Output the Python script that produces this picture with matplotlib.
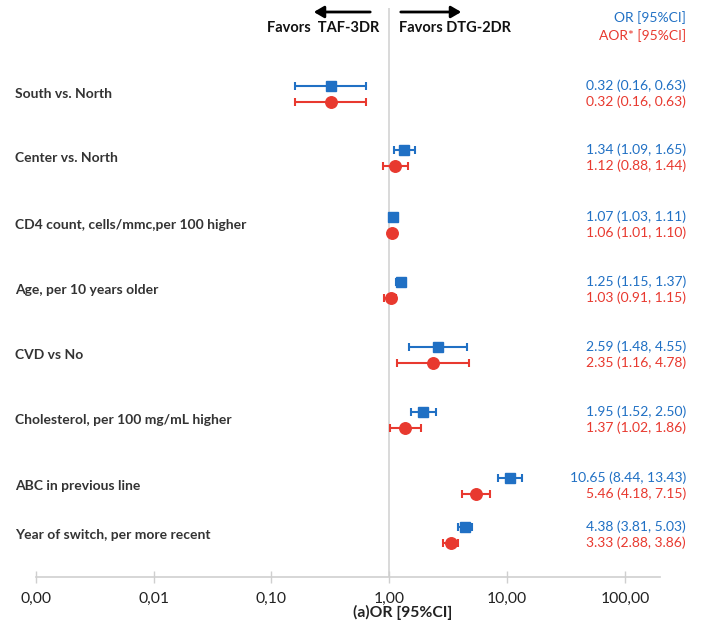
import matplotlib
matplotlib.use("Agg")
import matplotlib.pyplot as plt
import matplotlib.transforms as mtransforms

plt.rcParams['font.family'] = ['Lato', 'DejaVu Sans']

# ---- data ----
labels = ["South vs. North", "Center vs. North", "CD4 count, cells/mmc,per 100 higher",
          "Age, per 10 years older", "CVD vs No", "Cholesterol, per 100 mg/mL higher",
          "ABC in previous line", "Year of switch, per more recent"]
or_est = [0.32, 1.34, 1.07, 1.25, 2.59, 1.95, 10.65, 4.38]
or_lo = [0.16, 1.09, 1.03, 1.15, 1.48, 1.52, 8.44, 3.81]
or_hi = [0.63, 1.65, 1.11, 1.37, 4.55, 2.50, 13.43, 5.03]
aor_est = [0.32, 1.12, 1.06, 1.03, 2.35, 1.37, 5.46, 3.33]
aor_lo = [0.16, 0.88, 1.01, 0.91, 1.16, 1.02, 4.18, 2.88]
aor_hi = [0.63, 1.44, 1.10, 1.15, 4.78, 1.86, 7.15, 3.86]
xticks = [0.001, 0.01, 0.1, 1, 10, 100]
xticklabels = ["0,00", "0,01", "0,10", "1,00", "10,00", "100,00"]

# ---- layout (pixel rows) ----
W, H = 703, 626
row_y = [93.5, 157.5, 224.5, 290, 355, 420, 486, 535]
off = 8
BLUE = '#2070c4'
RED = '#e8392f'

fig = plt.figure(figsize=(W / 100, H / 100), dpi=100)
x0, x1, ytop, ybot = 35.7, 660, 8, 577
ax = fig.add_axes([x0 / W, 1 - ybot / H, (x1 - x0) / W, (ybot - ytop) / H])
ax.set_xscale('log')
ax.set_xlim(0.001, 10 ** (2 + (x1 - 625) / 117.9))
ax.set_ylim(ybot, ytop)

yb = [y - off for y in row_y]
yr = [y + off for y in row_y]
ax.errorbar(or_est, yb, xerr=[[e - l for e, l in zip(or_est, or_lo)], [h - e for e, h in zip(or_est, or_hi)]],
            fmt='s', color=BLUE, ms=7.5, elinewidth=1.5, capsize=3.0, capthick=1.5, zorder=3)
ax.errorbar(aor_est, yr, xerr=[[e - l for e, l in zip(aor_est, aor_lo)], [h - e for e, h in zip(aor_est, aor_hi)]],
            fmt='o', color=RED, ms=8.3, elinewidth=1.5, capsize=3.0, capthick=1.5, zorder=3)

ax.axvline(1, color='#d9d9d9', lw=1.4, zorder=1)

for s in ['top', 'right', 'left']:
    ax.spines[s].set_visible(False)
ax.spines['bottom'].set_color('#cfcfcf')
ax.spines['bottom'].set_linewidth(1.2)
ax.set_yticks([])
ax.set_xticks(xticks)
ax.set_xticklabels(xticklabels, fontsize=11.3, color='#222222')
ax.minorticks_off()
ax.tick_params(axis='x', direction='inout', length=9, width=1, color='#cfcfcf', pad=6)

def fx(px):
    return px / W

def fy(py):
    return 1 - py / H

fig.text(fx(403), fy(612), "(a)OR [95%CI]", ha='center', va='center', fontsize=11.3,
         fontweight='bold', color='#222222')

trans_left = mtransforms.blended_transform_factory(fig.transFigure, ax.transData)
for lab, y in zip(labels, row_y):
    ax.text(15 / W, y, lab, transform=trans_left, ha='left', va='center',
            fontsize=10, fontweight='bold', color='#333333')

for i in range(len(labels)):
    ax.text(686 / W, yb[i], f"{or_est[i]:.2f} ({or_lo[i]:.2f}, {or_hi[i]:.2f})", transform=trans_left,
            ha='right', va='center', fontsize=10, color=BLUE)
    ax.text(686 / W, yr[i], f"{aor_est[i]:.2f} ({aor_lo[i]:.2f}, {aor_hi[i]:.2f})", transform=trans_left,
            ha='right', va='center', fontsize=10, color=RED)

fig.text(fx(686), fy(18), "OR [95%CI]", ha='right', va='center', fontsize=10, color=BLUE)
fig.text(fx(686), fy(36), "AOR* [95%CI]", ha='right', va='center', fontsize=10, color=RED)

fig.text(fx(379), fy(28), "Favors  TAF-3DR", ha='right', va='center', fontsize=10.5, fontweight='bold', color='#111111')
fig.text(fx(399), fy(28), "Favors DTG-2DR", ha='left', va='center', fontsize=10.5, fontweight='bold', color='#111111')
fig.patches.append(matplotlib.patches.FancyArrowPatch((fx(373), fy(12)), (fx(311), fy(12)), transform=fig.transFigure,
                                                      arrowstyle='-|>,head_length=6,head_width=3.5', mutation_scale=1,
                                                      color='black', lw=2))
fig.patches.append(matplotlib.patches.FancyArrowPatch((fx(398), fy(12)), (fx(464), fy(12)), transform=fig.transFigure,
                                                      arrowstyle='-|>,head_length=6,head_width=3.5', mutation_scale=1,
                                                      color='black', lw=2))

fig.savefig("out.png", dpi=100)
